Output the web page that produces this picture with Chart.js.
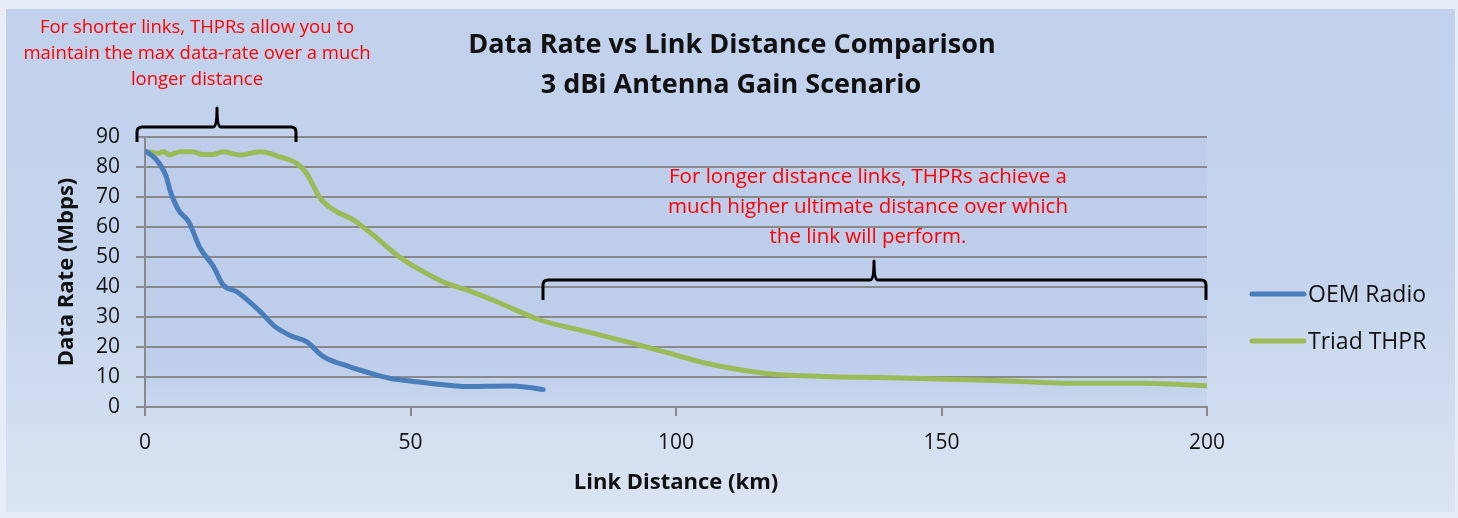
<!DOCTYPE html>
<html>
<head>
<meta charset="utf-8">
<script src="https://cdn.jsdelivr.net/npm/chart.js@4.4.0/dist/chart.umd.min.js"></script>
<style>
    html, body { margin: 0; padding: 0; background: #e8eef7; }
    canvas { display: block; }
</style>
</head>
<body>
<canvas id="chart" width="1458" height="518"></canvas>
<script>
// Data (km, Mbps)
const oemDist = [0.3, 1.9, 3.1, 4.0, 4.7, 6.3, 8.2, 10.4, 12.9, 14.7, 17.3, 21.7, 24.5, 27.9, 30.4, 33.6, 38.6, 42, 46.1, 51.2, 56.8, 60.4, 64, 68.7, 72, 75.0];
const oemRate = [85.1, 82.9, 80.1, 76.8, 72.3, 65.7, 61.8, 52.9, 46.8, 40.7, 38.4, 31.8, 26.8, 23.4, 21.8, 16.8, 13.4, 11.5, 9.6, 8.4, 7.3, 6.8, 6.9, 7.0, 6.6, 5.8];

const thprDist = [0.3, 2.5, 3.6, 4.6, 6.6, 9.0, 10.7, 12.9, 14.7, 17.9, 21.7, 25.4, 28.6, 30.4, 33.0, 35.5, 39.3, 43.0, 47.4, 51.8, 56.8, 61, 66.9, 74.4, 82, 91.9, 98, 105.7, 117, 129.5, 138.4, 160, 176, 188, 194, 200];
const thprRate = [85.1, 84.6, 85.1, 84.0, 85.1, 85.1, 84.2, 84.2, 85.1, 84.0, 85.1, 83.4, 81.2, 77.9, 69.6, 65.7, 62.3, 57.3, 50.7, 45.7, 41.2, 38.8, 34.6, 29.0, 25.6, 21.2, 18.3, 14.6, 11.2, 10.1, 9.8, 8.8, 7.9, 7.9, 7.6, 7.1];

const seriesNames = ['OEM Radio', 'Triad THPR'];
const seriesColors = ['#4a7ebb', '#9bbb59'];

const titleLines = ['Data Rate vs Link Distance Comparison', '3 dBi Antenna Gain Scenario'];
const noteShort = ['For shorter links, THPRs allow you to', 'maintain the max data-rate over a much', 'longer distance'];
const noteLong = ['For longer distance links, THPRs achieve a', 'much higher ultimate distance over which', 'the link will perform.'];

const FONT = '"Open Sans"';

function toPoints(xs, ys) {
    var pts = [];
    for (var i = 0; i < xs.length; i++) pts.push({ x: xs[i], y: ys[i] });
    return pts;
}

// background panel + plot area fill
const backgroundPlugin = {
    id: 'panelBackground',
    beforeDraw: function(chart) {
        var ctx = chart.ctx;
        var a = chart.chartArea;
        ctx.save();
        ctx.fillStyle = '#e8eef7';
        ctx.fillRect(0, 0, chart.width, chart.height);
        var g = ctx.createLinearGradient(0, 9, 0, 512);
        g.addColorStop(0, '#c1d1ec');
        g.addColorStop(0.55, '#c6d5ed');
        g.addColorStop(1, '#dbe4f2');
        ctx.fillStyle = g;
        ctx.fillRect(6, 9, 1449, 503);
        var pg = ctx.createLinearGradient(0, a.top, 0, a.bottom);
        pg.addColorStop(0, '#bdcdea');
        pg.addColorStop(0.85, '#bfcfeb');
        pg.addColorStop(1, '#c9d7ee');
        ctx.fillStyle = pg;
        ctx.fillRect(a.left, a.top, a.right - a.left, a.bottom - a.top);
        ctx.restore();
    }
};

function drawBrace(ctx, x1, x2, xm, yLine, yEnd, yPeak) {
    ctx.beginPath();
    ctx.moveTo(x1, yEnd);
    ctx.lineTo(x1, yLine + 5);
    ctx.quadraticCurveTo(x1, yLine, x1 + 5, yLine);
    ctx.lineTo(xm - 4, yLine);
    ctx.quadraticCurveTo(xm, yLine, xm, yPeak);
    ctx.quadraticCurveTo(xm, yLine, xm + 4, yLine);
    ctx.lineTo(x2 - 5, yLine);
    ctx.quadraticCurveTo(x2, yLine, x2, yLine + 5);
    ctx.lineTo(x2, yEnd);
    ctx.stroke();
}

// title, notes, braces and legend
const overlayPlugin = {
    id: 'overlay',
    afterDraw: function(chart) {
        var ctx = chart.ctx;
        var i;
        ctx.save();
        ctx.textAlign = 'center';
        ctx.textBaseline = 'middle';

        ctx.fillStyle = '#111111';
        ctx.font = 'bold 27px ' + FONT;
        ctx.fillText(titleLines[0], 732, 45);
        ctx.fillText(titleLines[1], 731, 85);

        ctx.fillStyle = '#ff0000';
        ctx.font = '18.5px ' + FONT;
        for (i = 0; i < noteShort.length; i++) ctx.fillText(noteShort[i], 197, 28 + i * 26);
        ctx.font = '20.5px ' + FONT;
        for (i = 0; i < noteLong.length; i++) ctx.fillText(noteLong[i], 868, 177 + i * 30);

        ctx.strokeStyle = '#000000';
        ctx.lineWidth = 3;
        ctx.lineJoin = 'round';
        drawBrace(ctx, 137, 296, 217, 127, 142, 108);
        drawBrace(ctx, 543, 1206, 874, 280, 300, 261);

        // legend
        ctx.textAlign = 'left';
        ctx.font = '23px ' + FONT;
        ctx.lineCap = 'round';
        ctx.lineWidth = 5;
        for (i = 0; i < seriesNames.length; i++) {
            var y = 294 + i * 47;
            ctx.strokeStyle = seriesColors[i];
            ctx.beginPath();
            ctx.moveTo(1252, y);
            ctx.lineTo(1304, y);
            ctx.stroke();
            ctx.fillStyle = '#111111';
            ctx.fillText(seriesNames[i], 1308, y + 1);
        }
        ctx.restore();
    }
};

const ctx = document.getElementById('chart').getContext('2d');
new Chart(ctx, {
    type: 'line',
    data: {
        datasets: [
            {
                label: seriesNames[0],
                data: toPoints(oemDist, oemRate),
                borderColor: seriesColors[0],
                borderWidth: 5,
                pointRadius: 0,
                cubicInterpolationMode: 'monotone',
                borderCapStyle: 'round',
                fill: false
            },
            {
                label: seriesNames[1],
                data: toPoints(thprDist, thprRate),
                borderColor: seriesColors[1],
                borderWidth: 5,
                pointRadius: 0,
                cubicInterpolationMode: 'monotone',
                borderCapStyle: 'round',
                fill: false
            }
        ]
    },
    options: {
        responsive: false,
        animation: false,
        layout: { padding: { left: 54, top: 137, right: 251, bottom: 22 } },
        plugins: {
            legend: { display: false },
            title: { display: false },
            tooltip: { enabled: false }
        },
        scales: {
            x: {
                type: 'linear',
                min: 0,
                max: 200,
                afterFit: function(scale) { scale.height = 89; },
                ticks: { stepSize: 50, padding: 14, color: '#111111', font: { family: FONT, size: 21 }, maxRotation: 0 },
                grid: { drawOnChartArea: false, drawTicks: true, tickLength: 9, color: '#8a8a8a', lineWidth: 2 },
                border: { color: '#8a8a8a', width: 2 },
                title: { display: true, text: 'Link Distance (km)', color: '#111111', font: { family: FONT, size: 22, weight: 'bold' }, padding: 0 }
            },
            y: {
                min: 0,
                max: 90,
                afterFit: function(scale) { scale.width = 91; },
                ticks: { stepSize: 10, padding: 16, color: '#111111', font: { family: FONT, size: 21 } },
                grid: { drawTicks: true, tickLength: 9, color: '#8a8a8a', lineWidth: 2 },
                border: { color: '#8a8a8a', width: 2 },
                title: { display: true, text: 'Data Rate (Mbps)', color: '#111111', font: { family: FONT, size: 22, weight: 'bold' }, padding: 0 }
            }
        }
    },
    plugins: [backgroundPlugin, overlayPlugin]
});
</script>
</body>
</html>
